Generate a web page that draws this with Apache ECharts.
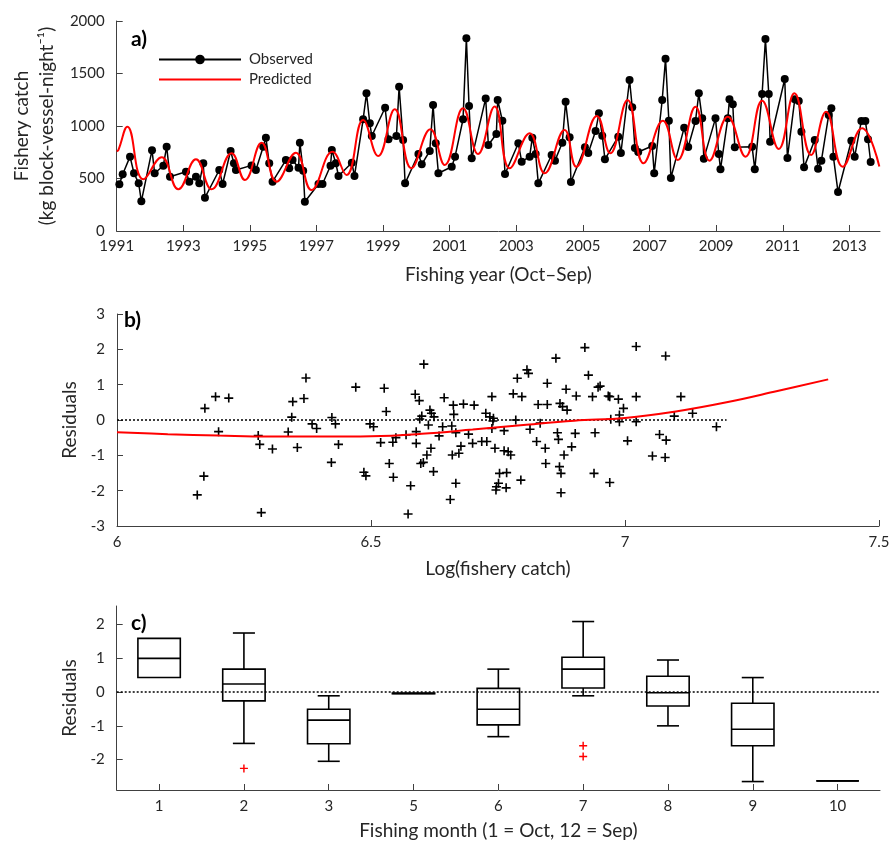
<!DOCTYPE html>
<html><head><meta charset="utf-8">
<script src="https://cdn.jsdelivr.net/npm/echarts@6/dist/echarts.min.js"></script>
<style>html,body{margin:0;padding:0;background:#fff}#c{width:895px;height:850px}</style>
</head><body><div id="c"></div>
<script>
// ---------- Panel a ----------
const yearTicks = [1991,1993,1995,1997,1999,2001,2003,2005,2007,2009,2011,2013];
const observedYear = [
1991.08,1991.18,1991.40,1991.52,1991.66,1991.74,
1992.06,1992.14,1992.40,1992.50,1992.60,
1993.08,1993.18,1993.38,1993.48,1993.60,1993.65,
1994.08,1994.18,1994.42,1994.52,1994.58,
1995.05,1995.18,1995.40,1995.48,1995.58,1995.68,
1996.08,1996.18,1996.28,1996.46,1996.50,1996.60,1996.65,
1997.06,1997.18,1997.42,1997.46,1997.58,1997.66,
1998.06,1998.14,1998.40,1998.50,1998.60,1998.66,
1999.06,1999.16,1999.40,1999.48,1999.60,1999.66,
2000.06,2000.16,2000.40,2000.50,2000.58,2000.66,
2001.06,2001.16,2001.40,2001.50,2001.58,2001.66,
2002.08,2002.16,2002.40,2002.44,2002.58,2002.66,
2003.06,2003.16,2003.40,2003.48,2003.58,2003.66,
2004.06,2004.16,2004.38,2004.48,2004.60,2004.64,
2005.06,2005.16,2005.38,2005.48,2005.58,2005.66,
2006.06,2006.14,2006.40,2006.48,2006.56,2006.66,
2007.08,2007.14,2007.38,2007.48,2007.58,2007.64,
2008.04,2008.16,2008.38,2008.48,2008.58,2008.63,
2008.98,2009.08,2009.13,2009.35,2009.40,2009.50,2009.56,
2010.08,2010.16,2010.38,2010.48,2010.58,2010.62,
2011.06,2011.14,2011.36,2011.48,2011.56,2011.64,
2011.96,2012.06,2012.16,2012.38,2012.46,2012.52,2012.66,
2013.06,2013.16,2013.36,2013.48,2013.56,2013.64];
const observedCatch = [
445,540,708,550,454,283,
770,550,622,803,517,
565,470,517,454,645,317,
581,448,762,645,581,
625,581,803,889,645,470,
676,597,676,603,841,574,279,
448,448,622,771,645,524,
650,524,1064,1311,1026,905,
1174,873,905,1374,867,454,
733,635,762,1200,835,550,
612,708,1064,1835,1190,692,
1263,819,924,1248,1050,543,
835,660,708,889,733,454,
724,670,841,1232,892,467,
797,743,952,1121,908,683,
898,743,1438,1178,790,752,
810,550,1248,1641,1050,505,
984,800,1048,1311,1073,689,
1073,733,587,1073,1254,1206,797,
803,587,1305,1829,1305,850,
1448,695,1254,1238,946,606,
867,593,670,1105,1168,708,371,
860,708,1048,1048,873,657];
const predictedYear = [1991.00,1991.05,1991.32,1991.80,1992.35,1992.85,1993.38,1993.85,1994.45,1994.85,1995.35,1995.80,1996.38,1996.85,1997.48,1997.90,1998.40,1998.85,1999.35,1999.85,2000.42,2000.85,2001.40,2001.85,2002.35,2002.80,2003.40,2003.85,2004.45,2004.80,2005.42,2005.82,2006.34,2006.82,2007.40,2007.85,2008.38,2008.80,2009.35,2009.88,2010.38,2010.88,2011.35,2011.85,2012.30,2012.80,2013.38,2013.90];
const predictedCatch = [760,771,993,492,702,397,683,397,740,486,841,470,746,390,755,533,1057,714,1159,597,969,629,1168,733,1185,597,930,550,962,612,1095,740,1248,645,1050,676,1184,670,1089,708,1241,781,1311,724,1136,612,978,615];

// ---------- Panel b ----------
const logCatch = [6.158,6.171,6.173,6.194,6.200,6.220,6.278,6.281,6.284,6.306,6.337,6.344,6.346,6.355,6.368,6.372,6.384,6.393,6.422,6.423,6.430,6.436,6.470,6.486,6.490,6.498,6.505,6.519,6.526,6.530,6.536,6.543,6.544,6.549,6.569,6.573,6.578,6.587,6.589,6.589,6.595,6.596,6.598,6.600,6.603,6.604,6.610,6.613,6.616,6.618,6.619,6.623,6.624,6.634,6.641,6.644,6.656,6.659,6.660,6.662,6.663,6.667,6.667,6.673,6.677,6.682,6.692,6.700,6.703,6.718,6.726,6.728,6.734,6.738,6.738,6.740,6.741,6.744,6.746,6.747,6.751,6.753,6.762,6.762,6.766,6.767,6.770,6.775,6.780,6.785,6.788,6.795,6.797,6.807,6.810,6.813,6.826,6.829,6.833,6.843,6.844,6.847,6.847,6.864,6.867,6.869,6.871,6.872,6.874,6.874,6.877,6.880,6.884,6.886,6.895,6.902,6.904,6.921,6.928,6.936,6.939,6.941,6.947,6.951,6.967,6.970,6.970,6.972,6.987,6.989,6.989,6.997,7.005,7.022,7.022,7.022,7.054,7.068,7.080,7.081,7.079,7.097,7.110,7.133,7.180];
const residual = [-2.12,-1.59,0.33,0.66,-0.33,0.62,-0.44,-0.69,-2.62,-0.82,-0.34,0.08,0.52,-0.78,0.61,1.19,-0.11,-0.24,-1.20,0.07,-0.11,-0.69,0.93,-1.48,-1.58,-0.11,-0.19,-0.64,0.90,0.24,-1.23,-0.63,-1.62,-0.50,-0.42,-2.66,-1.86,0.73,-0.33,-0.66,0.55,0.03,-1.23,0.11,-1.20,1.58,-0.99,-0.14,0.28,-0.80,0.19,-1.46,0.09,-0.45,-0.19,0.63,-2.25,-0.17,-0.99,0.42,0.16,-0.36,-1.79,-0.94,-0.74,0.45,-0.40,-0.66,0.42,-0.61,0.19,-0.61,0.09,0.66,-0.24,-0.03,0.05,-0.80,-1.98,-1.89,-1.79,-1.51,-0.30,-0.87,-1.92,-1.49,-0.90,-0.99,0.74,0.00,1.18,-1.70,0.66,1.42,1.32,-0.26,-0.61,0.44,-0.09,-0.80,-1.23,0.44,1.04,1.75,-0.36,-0.55,-1.32,0.47,-1.51,-2.06,0.38,-0.99,0.87,0.28,-0.76,-0.38,0.68,2.05,1.27,0.66,-1.51,-0.36,0.93,0.96,0.68,0.66,-1.77,0.02,0.59,0.14,-0.05,0.33,-0.59,2.08,0.66,-0.05,-1.02,-0.41,1.81,-0.57,-1.06,0.11,0.66,0.19,-0.19];
const trendLogCatch = [6.0,6.1,6.2,6.3,6.4,6.5,6.6,6.7,6.8,6.9,7.0,7.1,7.2,7.3,7.4];
const trendResidual = [-0.35,-0.40,-0.44,-0.47,-0.47,-0.46,-0.39,-0.27,-0.14,-0.02,0.06,0.24,0.50,0.82,1.15];
const zeroLineLog = [6.0,7.2];

// ---------- Panel c ----------
const months = ['1','2','3','5','6','7','8','9','10'];
const boxMin = [0.43,-1.52,-2.05,-0.05,-1.32,-0.11,-1.00,-2.65,-2.63];
const boxQ1  = [0.43,-0.26,-1.53,-0.05,-0.97, 0.12,-0.41,-1.59,-2.63];
const boxMed = [1.00, 0.24,-0.83,-0.04,-0.51, 0.68,-0.02,-1.10,-2.63];
const boxQ3  = [1.59, 0.68,-0.51,-0.03, 0.11, 1.03, 0.47,-0.33,-2.63];
const boxMax = [1.59, 1.75,-0.11,-0.03, 0.68, 2.09, 0.95, 0.43,-2.63];
const outlierMonth = ['2','7','7'];
const outlierValue = [-2.26,-1.59,-1.91];

const FONT = 'Lato, "Open Sans", sans-serif';
const TXT = '#262626';
const AX = '#404040';
const PLUS = 'path://M0,4.1H10V5.9H0Z M4.1,0H5.9V10H4.1Z';
const plain = v => String(v);

const axisCommon = {
  axisLine: {show: true, onZero: false, lineStyle: {color: AX, width: 1}},
  axisTick: {show: true, inside: true, length: 6, lineStyle: {color: AX}},
  axisLabel: {color: TXT, fontFamily: FONT, fontSize: 15},
  splitLine: {show: false},
  nameLocation: 'middle',
  nameTextStyle: {color: TXT, fontFamily: FONT, fontSize: 19}
};
function ax(extra) {
  const o = JSON.parse(JSON.stringify(axisCommon));
  for (const k in extra) {
    if (typeof extra[k] === 'object' && !Array.isArray(extra[k]) && o[k]) Object.assign(o[k], extra[k]);
    else o[k] = extra[k];
  }
  o.axisLabel.formatter = plain;
  return o;
}

function renderBox(params, api) {
  const i = api.value(0);
  const lo = api.value(1), q1 = api.value(2), md = api.value(3), q3 = api.value(4), hi = api.value(5);
  const band = api.size([1, 0])[0];
  const half = band * 0.25;
  const cap = band * 0.13;
  const cx = api.coord([i, md])[0];
  const Y = v => api.coord([i, v])[1];
  const st = {stroke: '#000', fill: 'none', lineWidth: 1.6};
  const line = (x1, y1, x2, y2) => ({type: 'line', shape: {x1, y1, x2, y2}, style: st});
  const ch = [];
  if (hi > q3) ch.push(line(cx, Y(hi), cx, Y(q3)), line(cx - cap, Y(hi), cx + cap, Y(hi)));
  if (lo < q1) ch.push(line(cx, Y(q1), cx, Y(lo)), line(cx - cap, Y(lo), cx + cap, Y(lo)));
  ch.push({type: 'rect', shape: {x: cx - half, y: Y(q3), width: 2 * half, height: Y(q1) - Y(q3)}, style: st});
  ch.push(line(cx - half, Y(md), cx + half, Y(md)));
  return {type: 'group', children: ch};
}

const chart = echarts.init(document.getElementById('c'), null, {renderer: 'canvas'});
chart.setOption({
  backgroundColor: '#fff',
  animation: false,
  textStyle: {fontFamily: FONT},
  grid: [
    {left: 116.7, top: 21, width: 763.3, height: 210},
    {left: 117, top: 314, width: 762, height: 212},
    {left: 116.7, top: 606, width: 763.3, height: 184}
  ],
  legend: {
    data: [
      {name: 'Observed'},
      {name: 'Predicted', itemStyle: {opacity: 0}}
    ],
    orient: 'vertical', left: 153, top: 47,
    itemWidth: 82, itemHeight: 12, itemGap: 5,
    textStyle: {color: TXT, fontFamily: FONT, fontSize: 15, padding: [0, 0, 0, 3]}
  },
  xAxis: [
    ax({gridIndex: 0, type: 'value', min: 1991, max: 2013.92,
        name: 'Fishing year (Oct\u2013Sep)', nameGap: 34,
        axisTick: {customValues: yearTicks}, axisLabel: {customValues: yearTicks, margin: 8}}),
    ax({gridIndex: 1, type: 'value', min: 6, max: 7.5, interval: 0.5,
        name: 'Log(fishery catch)', nameGap: 33, axisLabel: {margin: 9}}),
    ax({gridIndex: 2, type: 'category', data: months, boundaryGap: true,
        name: 'Fishing month (1 = Oct, 12 = Sep)', nameGap: 31,
        axisTick: {alignWithLabel: true}, axisLabel: {margin: 9}})
  ],
  yAxis: [
    ax({gridIndex: 0, type: 'value', min: 0, max: 2000, interval: 500,
        name: 'Fishery catch\n(kg block-vessel-night\u207B\u00B9)', nameGap: 45,
        nameTextStyle: {lineHeight: 25}, axisLabel: {margin: 12}}),
    ax({gridIndex: 1, type: 'value', min: -3, max: 3, interval: 1,
        name: 'Residuals', nameGap: 26, axisLabel: {margin: 12}}),
    ax({gridIndex: 2, type: 'value', min: -2.9, max: 2.55,
        name: 'Residuals', nameGap: 26,
        axisTick: {customValues: [-2, -1, 0, 1, 2]},
        axisLabel: {customValues: [-2, -1, 0, 1, 2], margin: 12}})
  ],
  graphic: [
    {type: 'text', left: 131, top: 29, style: {text: 'a)', font: 'bold 21px ' + FONT, fill: '#000'}},
    {type: 'text', left: 124, top: 310, style: {text: 'b)', font: 'bold 21px ' + FONT, fill: '#000'}},
    {type: 'text', left: 131, top: 613, style: {text: 'c)', font: 'bold 21px ' + FONT, fill: '#000'}}
  ],
  series: [
    {
      name: 'Observed', type: 'line', xAxisIndex: 0, yAxisIndex: 0,
      data: observedYear.map((y, i) => [y, observedCatch[i]]),
      symbol: 'circle', symbolSize: 8, showSymbol: true,
      lineStyle: {color: '#000', width: 1.5}, itemStyle: {color: '#000'}, z: 3
    },
    {
      name: 'Predicted', type: 'line', xAxisIndex: 0, yAxisIndex: 0,
      data: predictedYear.map((y, i) => [y, predictedCatch[i]]),
      smooth: 0.45, showSymbol: false, symbol: 'none',
      lineStyle: {color: '#ff0000', width: 2}, itemStyle: {color: '#ff0000'}, z: 4
    },
    {
      type: 'line', xAxisIndex: 1, yAxisIndex: 1,
      data: zeroLineLog.map(x => [x, 0]), showSymbol: false, symbol: 'none',
      lineStyle: {color: '#000', width: 1.5, type: [2, 2]}, silent: true, z: 2
    },
    {
      type: 'scatter', xAxisIndex: 1, yAxisIndex: 1,
      data: logCatch.map((x, i) => [x, residual[i]]),
      symbol: PLUS, symbolSize: 9, itemStyle: {color: '#000', opacity: 1}, z: 3
    },
    {
      type: 'line', xAxisIndex: 1, yAxisIndex: 1,
      data: trendLogCatch.map((x, i) => [x, trendResidual[i]]),
      smooth: 0.4, showSymbol: false, symbol: 'none',
      lineStyle: {color: '#ff0000', width: 2}, z: 4
    },
    {
      type: 'custom', xAxisIndex: 2, yAxisIndex: 2,
      renderItem: renderBox, clip: false,
      encode: {x: 0, y: [1, 2, 3, 4, 5]},
      data: months.map((m, i) => [i, boxMin[i], boxQ1[i], boxMed[i], boxQ3[i], boxMax[i]]),
      markLine: {
        silent: true, symbol: 'none', label: {show: false},
        lineStyle: {color: '#000', width: 1.5, type: [2, 2]},
        data: [{yAxis: 0}]
      }, z: 3
    },
    {
      type: 'scatter', xAxisIndex: 2, yAxisIndex: 2,
      data: outlierMonth.map((m, i) => [m, outlierValue[i]]),
      symbol: PLUS, symbolSize: 8, itemStyle: {color: '#ff0000', opacity: 1}, z: 4
    }
  ]
});
</script></body></html>
